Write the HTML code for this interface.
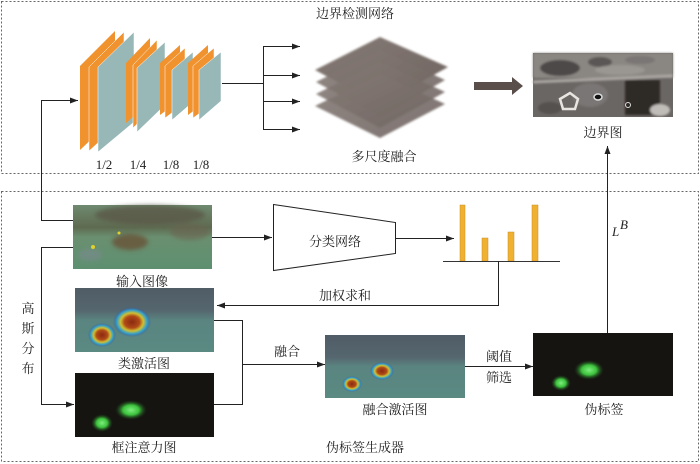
<!DOCTYPE html>
<html><head><meta charset="utf-8"><style>
html,body{margin:0;padding:0;background:#fff}
svg{display:block}
text{font-family:"Liberation Serif","Noto Serif CJK SC",serif;font-size:13px;fill:#222}
</style></head><body>
<svg width="700" height="464" viewBox="0 0 700 464" xmlns="http://www.w3.org/2000/svg">
<defs>
<marker id="ah" markerWidth="8" markerHeight="6" refX="8" refY="3" orient="auto" markerUnits="userSpaceOnUse"><path d="M0,0 L8,3 L0,6 Z" fill="#222"/></marker>
<filter id="b2"><feGaussianBlur stdDeviation="2"/></filter>
<filter id="b1"><feGaussianBlur stdDeviation="1"/></filter>
<radialGradient id="gg"><stop offset="0" stop-color="#7cf07c"/><stop offset="0.5" stop-color="#3cc03c"/><stop offset="1" stop-color="#1a3a1a" stop-opacity="0"/></radialGradient>
<radialGradient id="heat"><stop offset="0" stop-color="#8a2a10"/><stop offset="0.4" stop-color="#b04a18"/><stop offset="0.6" stop-color="#d0c030"/><stop offset="0.8" stop-color="#30a0d0"/><stop offset="1" stop-color="#3050a0" stop-opacity="0"/></radialGradient>
<linearGradient id="inp" x1="0" y1="0" x2="0" y2="1"><stop offset="0" stop-color="#6f8a70"/><stop offset="0.35" stop-color="#5e6a50"/><stop offset="0.5" stop-color="#6a8f70"/><stop offset="1" stop-color="#5d9070"/></linearGradient>
<linearGradient id="cam" x1="0" y1="0" x2="0" y2="1"><stop offset="0" stop-color="#505c66"/><stop offset="0.35" stop-color="#55666e"/><stop offset="0.5" stop-color="#5a8480"/><stop offset="1" stop-color="#5a8a82"/></linearGradient>
<linearGradient id="lay" x1="0" y1="0" x2="1" y2="1"><stop offset="0" stop-color="#7a6e68"/><stop offset="1" stop-color="#5e524e"/></linearGradient>
</defs>

<rect x="1.5" y="1.5" width="697" height="172" fill="none" stroke="#666" stroke-dasharray="2,2"/>
<rect x="1.5" y="191.5" width="697" height="270" fill="none" stroke="#666" stroke-dasharray="2,2"/>

<text x="355" y="18" text-anchor="middle" font-size="14">边界检测网络</text>

<g stroke="none">
<polygon points="80,66 115,31 115,117 80,150" fill="#f0922e"/>
<polygon points="89,67 124,32 124,119 89,151" fill="#f0922e" stroke="#fff" stroke-width="0.5"/>
<polygon points="98,67 134,32 134,122 98,152" fill="#98b8b8" stroke="#fff" stroke-width="0.5"/>
<polygon points="126,63 150,38 150,102 126,123" fill="#f0922e"/>
<polygon points="133,65 157,40 157,104 133,128" fill="#f0922e" stroke="#fff" stroke-width="0.5"/>
<polygon points="137,68 165,42 165,105 137,132" fill="#98b8b8" stroke="#fff" stroke-width="0.5"/>
<polygon points="160,63 180,45 180,100 160,115" fill="#f0922e"/>
<polygon points="165,66 185,48 185,103 165,118" fill="#f0922e" stroke="#fff" stroke-width="0.5"/>
<polygon points="172,70 193,52 193,102 172,120" fill="#98b8b8" stroke="#fff" stroke-width="0.5"/>
<polygon points="188,63 208,45 208,100 188,115" fill="#f0922e"/>
<polygon points="193,66 214,48 214,103 193,118" fill="#f0922e" stroke="#fff" stroke-width="0.5"/>
<polygon points="199,70 221,52 221,101 199,120" fill="#98b8b8" stroke="#fff" stroke-width="0.5"/>
</g>
<text x="104" y="169" text-anchor="middle">1/2</text>
<text x="138" y="169" text-anchor="middle">1/4</text>
<text x="171" y="169" text-anchor="middle">1/8</text>
<text x="201" y="169" text-anchor="middle">1/8</text>

<g stroke="#222" stroke-width="1" fill="none">
<line x1="222" y1="83.5" x2="263.5" y2="83.5"/>
<line x1="263.5" y1="46" x2="263.5" y2="130"/>
<line x1="263.5" y1="46.5" x2="300" y2="46.5" marker-end="url(#ah)"/>
<line x1="263.5" y1="75.5" x2="300" y2="75.5" marker-end="url(#ah)"/>
<line x1="263.5" y1="101.5" x2="300" y2="101.5" marker-end="url(#ah)"/>
<line x1="263.5" y1="129.5" x2="300" y2="129.5" marker-end="url(#ah)"/>
</g>

<g filter="url(#b1)" opacity="0.9">
<polygon points="380,37 448,67 380,105 315,70" fill="url(#lay)"/>
<polygon points="380,50 445,80 380,117 316,82" fill="url(#lay)" opacity="0.9"/>
<polygon points="380,62 445,92 380,128 316,94" fill="url(#lay)" opacity="0.9"/>
<polygon points="380,74 445,104 380,138 315,106" fill="url(#lay)" opacity="0.9"/>
</g>
<text x="384" y="161" text-anchor="middle" font-size="14">多尺度融合</text>

<polygon points="474,82 512,82 512,77 523,86 512,95 512,90 474,90" fill="#5a4e4a"/>

<rect x="533" y="53" width="140" height="64" fill="#6a6664"/>
<g filter="url(#b1)">
<rect x="533" y="53" width="140" height="25" fill="#8a8682"/>
<ellipse cx="560" cy="68" rx="20" ry="8" fill="#4e4a48"/>
<ellipse cx="600" cy="62" rx="12" ry="5" fill="#5a5654"/>
<ellipse cx="640" cy="60" rx="15" ry="4" fill="#7a7674"/>
<ellipse cx="620" cy="70" rx="25" ry="5" fill="#9a9692"/>
<rect x="625" y="80" width="35" height="35" fill="#2e2a28"/>
<ellipse cx="590" cy="95" rx="18" ry="12" fill="#7a7674"/>
<ellipse cx="550" cy="108" rx="12" ry="6" fill="#55514f"/>
<ellipse cx="660" cy="110" rx="10" ry="6" fill="#c0bcb8"/>
<line x1="533" y1="82" x2="673" y2="76" stroke="#aaa6a2" stroke-width="3"/>
</g>
<polygon points="560,99 570,93 578,99 575,109 563,109" fill="none" stroke="#e8e4e0" stroke-width="2.5"/>
<ellipse cx="598" cy="97" rx="4" ry="3" fill="#111" stroke="#ddd" stroke-width="1.5"/>
<circle cx="628" cy="105" r="2.5" fill="none" stroke="#ddd"/>
<text x="603" y="137" text-anchor="middle" font-size="14">边界图</text>

<line x1="607.5" y1="333" x2="607.5" y2="146" stroke="#222" marker-end="url(#ah)"/>
<text x="612" y="236" font-style="italic" font-size="13">L</text><text x="620" y="229" font-style="italic" font-size="6">B</text>

<g stroke="#222" fill="none">
<polyline points="73,220.5 41.5,220.5 41.5,100.5 78,100.5" marker-end="url(#ah)"/>
<polyline points="73,247.5 41.5,247.5 41.5,404.5 74,404.5" marker-end="url(#ah)"/>
</g>
<text x="28" y="313" text-anchor="middle" font-size="14">高</text>
<text x="28" y="333" text-anchor="middle" font-size="14">斯</text>
<text x="28" y="353" text-anchor="middle" font-size="14">分</text>
<text x="28" y="373" text-anchor="middle" font-size="14">布</text>

<rect x="73" y="205" width="139" height="64" fill="url(#inp)"/>
<g filter="url(#b2)">
<ellipse cx="150" cy="215" rx="55" ry="10" fill="#5a5848" opacity="0.8"/>
<ellipse cx="190" cy="232" rx="20" ry="8" fill="#6a6450" opacity="0.6"/>
<ellipse cx="130" cy="242" rx="18" ry="8" fill="#6a4a30" opacity="0.7"/>
<ellipse cx="90" cy="255" rx="12" ry="6" fill="#7a8a90" opacity="0.6"/>
</g>
<circle cx="119" cy="233" r="1.5" fill="#e0d030"/><circle cx="93" cy="247" r="2" fill="#e0d030"/>
<text x="142" y="286" text-anchor="middle" font-size="14">输入图像</text>

<polygon points="273.5,204.5 395.5,222.5 395.5,253.5 273.5,270.5" fill="#fff" stroke="#222"/>
<text x="335" y="246" text-anchor="middle" font-size="14">分类网络</text>
<line x1="212" y1="237.5" x2="272" y2="237.5" stroke="#222" marker-end="url(#ah)"/>
<line x1="395" y1="238.5" x2="454" y2="238.5" stroke="#222" marker-end="url(#ah)"/>

<g fill="#f0b030" stroke="#c89028" stroke-width="0.5">
<rect x="460" y="205" width="5" height="56"/>
<rect x="482" y="238" width="6" height="23"/>
<rect x="508" y="232" width="6" height="29"/>
<rect x="532" y="205" width="6" height="56"/>
</g>
<line x1="443" y1="261.5" x2="560" y2="261.5" stroke="#333"/>
<polyline points="498.5,261 498.5,305.5 217,305.5" fill="none" stroke="#222" marker-end="url(#ah)"/>
<text x="345" y="300" text-anchor="middle" font-size="14">加权求和</text>

<rect x="75" y="288" width="139" height="64" fill="url(#cam)"/>
<ellipse cx="132" cy="322" rx="19" ry="15" fill="url(#heat)"/>
<ellipse cx="102" cy="335" rx="14" ry="12" fill="url(#heat)"/>
<text x="144" y="368" text-anchor="middle" font-size="14">类激活图</text>

<rect x="75" y="373" width="139" height="64" fill="#151410"/>
<ellipse cx="131" cy="410" rx="16" ry="10" fill="url(#gg)"/>
<ellipse cx="102" cy="423" rx="11" ry="9" fill="url(#gg)"/>
<text x="144" y="452" text-anchor="middle" font-size="14">框注意力图</text>

<g stroke="#222" fill="none">
<polyline points="214,320.5 242.5,320.5 242.5,404.5 214,404.5"/>
<line x1="242" y1="364.5" x2="325" y2="364.5" marker-end="url(#ah)"/>
</g>
<text x="287" y="356" text-anchor="middle" font-size="14">融合</text>

<rect x="325" y="335" width="140" height="63" fill="url(#cam)"/>
<ellipse cx="382" cy="371" rx="12" ry="9" fill="url(#heat)"/>
<ellipse cx="352" cy="384" rx="10" ry="8" fill="url(#heat)"/>
<text x="395" y="414" text-anchor="middle" font-size="14">融合激活图</text>

<line x1="465" y1="366.5" x2="533" y2="366.5" stroke="#222" marker-end="url(#ah)"/>
<text x="499" y="361" text-anchor="middle" font-size="14">阈值</text>
<text x="499" y="382" text-anchor="middle" font-size="14">筛选</text>

<rect x="533" y="333" width="140" height="63" fill="#151410"/>
<ellipse cx="589" cy="370" rx="15" ry="10" fill="url(#gg)"/>
<ellipse cx="561" cy="383" rx="10" ry="8" fill="url(#gg)"/>
<text x="604" y="414" text-anchor="middle" font-size="14">伪标签</text>

<text x="365" y="452" text-anchor="middle" font-size="14">伪标签生成器</text>
</svg>
</body></html>
